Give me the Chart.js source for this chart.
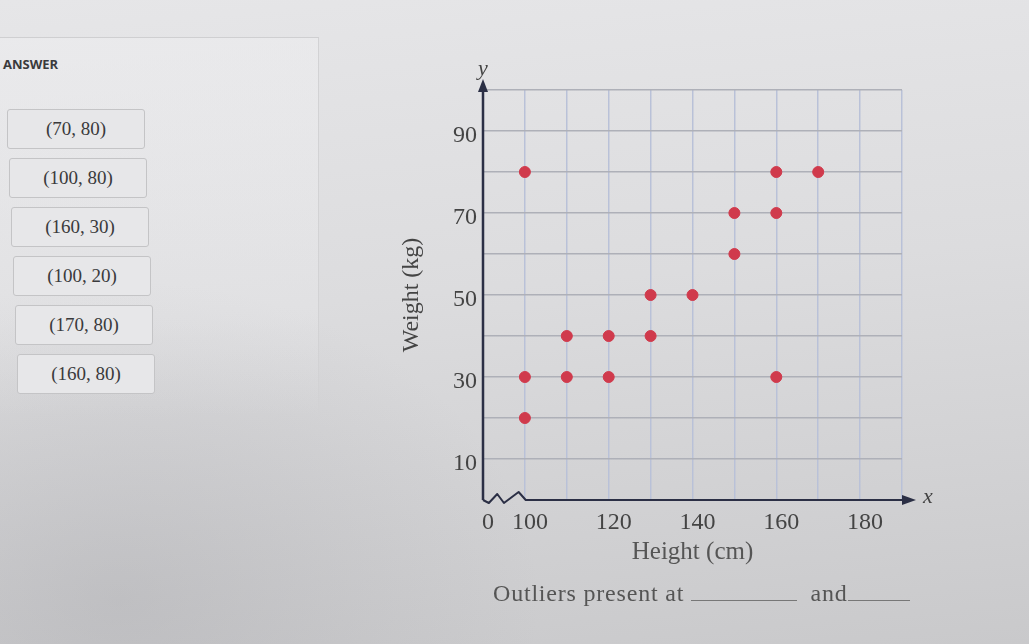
<!DOCTYPE html>
<html>
<head>
<meta charset="utf-8">
<script src="https://cdn.jsdelivr.net/npm/chart.js@4.4.1/dist/chart.umd.min.js"></script>
<style>
  html, body { margin: 0; padding: 0; }
  body {
    width: 1029px; height: 644px; overflow: hidden; position: relative;
    background:
      radial-gradient(ellipse 420px 320px at 120px 600px, rgba(150,150,155,0.28), rgba(150,150,155,0) 100%),
      linear-gradient(175deg, #e6e6e8 0%, #dcdcde 45%, #d0d0d2 80%, #c9c9cb 100%);
    font-family: "Liberation Serif", serif;
  }
  #panel {
    position: absolute; left: 0; top: 37px; width: 318px; height: 380px;
    border-top: 1px solid #cfcfd1; border-right: 1px solid #d2d2d4;
    background: linear-gradient(180deg, rgba(240,240,242,0.45) 0%, rgba(240,240,242,0.25) 70%, rgba(240,240,242,0) 100%);
  }
  #answerTitle {
    position: absolute; left: 3px; top: 55px;
    font-family: "Open Sans", sans-serif; font-weight: 700; font-size: 13px; color: #3a3a3c;
  }
  .choice {
    position: absolute; width: 138px; height: 40px; box-sizing: border-box;
    border: 1px solid #c4c4c6; border-radius: 3px; background: #e7e7e9;
    font-family: "Liberation Serif", serif; font-size: 19px; color: #3a3a3c;
    display: flex; align-items: center; justify-content: center;
  }
  #chartCanvas { position: absolute; left: 0; top: 0; }
  #question {
    position: absolute; left: 493px; top: 578px;
    font-family: "Liberation Serif", serif; font-size: 24px; color: #555;
    white-space: nowrap; letter-spacing: 0.8px;
  }
  .blank { display: inline-block; border-bottom: 1px solid #777; vertical-align: baseline; height: 22px; }
</style>
</head>
<body>
<div id="panel"></div>
<div id="answerTitle">ANSWER</div>
<div id="choices"></div>
<canvas id="chartCanvas" width="1029" height="644"></canvas>
<div id="question">Outliers present at <span class="blank" style="width:106px"></span>&nbsp; and<span class="blank" style="width:62px"></span></div>
<script>
// ---- Data ----
const heights = [100, 100, 100, 110, 110, 120, 120, 130, 130, 140, 150, 150, 160, 160, 160, 170];
const weights = [80, 30, 20, 40, 30, 40, 30, 50, 40, 50, 70, 60, 80, 70, 30, 80];
const xTickValues = [90, 100, 120, 140, 160, 180];
const xTickLabels = ['0', '100', '120', '140', '160', '180'];
const yTickValues = [10, 30, 50, 70, 90];
const answerChoices = ['(70, 80)', '(100, 80)', '(160, 30)', '(100, 20)', '(170, 80)', '(160, 80)'];

// ---- Answer choices (HTML) ----
const choiceBox = document.getElementById('choices');
answerChoices.forEach((t, i) => {
  const d = document.createElement('div');
  d.className = 'choice';
  d.style.left = (7 + i * 2) + 'px';
  d.style.top = (109 + i * 49) + 'px';
  d.textContent = t;
  choiceBox.appendChild(d);
});

// ---- Axis decorations plugin ----
const axisPlugin = {
  id: 'axisDeco',
  afterDraw(chart) {
    const { ctx, chartArea } = chart;
    const xs = chart.scales.x, ys = chart.scales.y;
    const x0 = xs.getPixelForValue(xs.min);
    const x1 = xs.getPixelForValue(100);
    const y0 = ys.getPixelForValue(ys.min);
    const span = x1 - x0;
    ctx.save();
    ctx.strokeStyle = '#2b2f45';
    ctx.fillStyle = '#2b2f45';
    ctx.lineWidth = 2.5;
    ctx.lineJoin = 'round';
    // y axis
    ctx.beginPath();
    ctx.moveTo(x0, y0);
    ctx.lineTo(x0, chartArea.top - 6);
    ctx.stroke();
    ctx.beginPath();
    ctx.moveTo(x0, chartArea.top - 11);
    ctx.lineTo(x0 - 5, chartArea.top + 2);
    ctx.lineTo(x0 + 5, chartArea.top + 2);
    ctx.closePath();
    ctx.fill();
    // x axis with break
    ctx.lineWidth = 2;
    ctx.beginPath();
    ctx.moveTo(x0, y0);
    ctx.lineTo(x0 + span * 0.14, y0 + 3);
    ctx.lineTo(x0 + span * 0.34, y0 - 6);
    ctx.lineTo(x0 + span * 0.50, y0 + 3);
    ctx.lineTo(x0 + span * 0.85, y0 - 8);
    ctx.lineTo(x0 + span * 1.02, y0);
    ctx.lineTo(chartArea.right + 2, y0);
    ctx.stroke();
    ctx.beginPath();
    ctx.moveTo(chartArea.right + 14, y0);
    ctx.lineTo(chartArea.right, y0 - 5);
    ctx.lineTo(chartArea.right, y0 + 5);
    ctx.closePath();
    ctx.fill();
    // axis letters
    ctx.fillStyle = '#444';
    ctx.font = 'italic 22px "Liberation Serif"';
    ctx.textAlign = 'center';
    ctx.textBaseline = 'middle';
    ctx.fillText('y', x0, chartArea.top - 21);
    ctx.fillText('x', chartArea.right + 26, y0 - 3);
    ctx.restore();
  }
};

new Chart(document.getElementById('chartCanvas'), {
  type: 'scatter',
  data: {
    datasets: [{
      data: heights.map((h, i) => ({ x: h, y: weights[i] })),
      backgroundColor: '#d03a4c',
      borderColor: '#d03a4c',
      pointRadius: 5.5,
      pointHoverRadius: 5.5
    }]
  },
  options: {
    responsive: false,
    animation: false,
    events: [],
    layout: { padding: { left: 390, top: 90, right: 127, bottom: 74 } },
    plugins: { legend: { display: false }, tooltip: { enabled: false } },
    scales: {
      x: {
        type: 'linear', min: 90, max: 190,
        afterFit(s) { s.height = 70; },
        border: { display: false },
        grid: {
          drawTicks: false,
          lineWidth: 1.5,
          color: (c) => (c.tick && c.tick.value === 90) ? 'rgba(0,0,0,0)' : '#b9c1d8'
        },
        ticks: {
          stepSize: 10, autoSkip: false, maxRotation: 0, padding: 8, labelOffset: 5,
          color: '#444', font: { family: '"Liberation Serif"', size: 24 },
          callback: (v) => { const i = xTickValues.indexOf(v); return i >= 0 ? xTickLabels[i] : ''; }
        },
        title: {
          display: true, text: 'Height (cm)', color: '#555',
          font: { family: '"Liberation Serif"', size: 25 }, padding: { top: 0, bottom: 3 }
        }
      },
      y: {
        type: 'linear', min: 0, max: 100,
        afterFit(s) { s.width = 93; },
        border: { display: false },
        grid: {
          drawTicks: false,
          lineWidth: 1.5,
          color: (c) => (c.tick && c.tick.value === 0) ? 'rgba(0,0,0,0)' : '#aeb0b8'
        },
        ticks: {
          stepSize: 10, autoSkip: false, padding: 6, labelOffset: 5,
          color: '#444', font: { family: '"Liberation Serif"', size: 24 },
          callback: (v) => yTickValues.includes(v) ? String(v) : ''
        },
        title: {
          display: true, text: 'Weight (kg)', color: '#444',
          font: { family: '"Liberation Serif"', size: 24 }, padding: { top: 7, bottom: 0 }
        }
      }
    }
  },
  plugins: [axisPlugin]
});
</script>
</body>
</html>
